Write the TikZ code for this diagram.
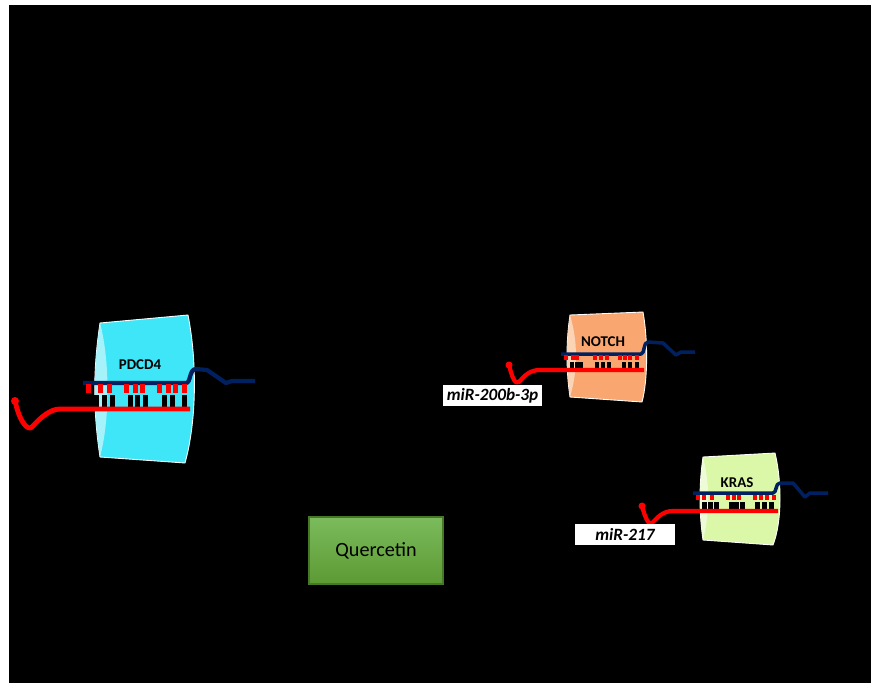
\documentclass[tikz,border=0pt]{standalone}
\usepackage{fontspec}
\setmainfont{Carlito}
\usepackage{tikz}

\definecolor{mrnablue}{RGB}{0,32,96}
\definecolor{mirred}{RGB}{255,0,0}
\definecolor{pdcdcyan}{RGB}{62,230,248}
\definecolor{pdcdface}{RGB}{165,242,250}
\definecolor{notchorange}{RGB}{249,166,112}
\definecolor{notchface}{RGB}{251,212,182}
\definecolor{krasgreen}{RGB}{218,248,168}
\definecolor{krasface}{RGB}{237,252,214}
\definecolor{quertop}{RGB}{124,187,92}
\definecolor{querbottom}{RGB}{92,154,52}
\definecolor{querborder}{RGB}{70,120,40}

\tikzset{
  mrna/.style={draw=mrnablue,line width=2pt,line join=round},
  mirna/.style={draw=mirred,line width=2.4pt,line join=round},
  barrel/.style={draw=white,line width=0.5pt},
  genelabel/.style={font=\fontsize{8.5}{10}\selectfont\bfseries,text=black},
  mirlabel/.style={fill=white,inner sep=0pt,minimum height=0.42cm,
    font=\fontsize{9.8}{11}\selectfont\bfseries\itshape}
}

\begin{document}
\begin{tikzpicture}[x=0.02cm,y=-0.02cm]

    \useasboundingbox (0,0) rectangle (871,683);
    \fill[white] (0,0) rectangle (871,683);
    \fill[black] (9,5) rectangle (871,683);

    % PDCD4
    \begin{scope}[shift={(100,323)}]

      \filldraw[barrel,fill=pdcdcyan] (0,0) -- (88,-8)
      .. controls (97,37) and (97,97) .. (85,140) -- (0,134)
      .. controls (-7,87) and (-7,47) .. (0,0) -- cycle;

      \fill[pdcdface] (0,0) .. controls (-7,47) and (-7,87) .. (0,134)
      .. controls (10,97) and (10,37) .. (0,0);

      \node[genelabel] (pdcd) at (40,42) {PDCD4};

      \draw[mrna,line width=2.4pt] (-17,60) -- (86,60)
      .. controls (91,60) and (89,46) .. (96,46) -- (107,47)
      -- (126,60) -- (132,58) -- (155,58);

      \foreach \x in {-14,-2,7,24,33,40,57,66,73,82}
        \fill[mirred] (\x,61) rectangle ++(5,9);

      \foreach \x in {-6,2,10,28,35,43,62,70,82}
        \fill[black] (\x,72) rectangle ++(4.5,14);

      \draw[mirna,line width=2.8pt] (-85,78)
      .. controls (-80,100) and (-72,108) .. (-68,104)
      .. controls (-60,95) and (-50,86) .. (-40,86) -- (90,86);

      \fill[mirred] (-85,78) circle (4);

    \end{scope}



    % NOTCH
    \begin{scope}[shift={(570,315)}]

      \filldraw[barrel,fill=notchorange] (0,0) -- (73,-3)
      .. controls (78,25) and (78,65) .. (72,87) -- (0,82)
      .. controls (-4,55) and (-4,27) .. (0,0) -- cycle;

      \fill[notchface] (0,0) .. controls (-4,27) and (-4,55) .. (0,82)
      .. controls (8,55) and (8,27) .. (0,0);

      \node[genelabel] (notch) at (33,27) {NOTCH};

      \draw[mrna] (-9,39) -- (71,39)
      .. controls (75,39) and (73,27) .. (78,27) -- (93,28)
      -- (106,40) -- (111,37) -- (125,37);

      \foreach \x in {-6,1,5,23,29,35,48,53,58,65}
        \fill[mirred] (\x,40) rectangle ++(4,5);

      \foreach \x in {0,5,9,25,31,37,52,58,65}
        \fill[black] (\x,47) rectangle ++(4,8);

      \draw[mirna] (-61,50)
      .. controls (-58,62) and (-55,70) .. (-51,67)
      .. controls (-45,60) and (-40,55) .. (-30,55) -- (74,55);

      \fill[mirred] (-61,50) circle (3.5);

    \end{scope}

    \node[mirlabel,minimum width=1.98cm] (mir200) at (492.5,395.5) {miR-200b-3p};



    % KRAS
    \begin{scope}[shift={(703,457)}]

      \filldraw[barrel,fill=krasgreen] (0,0) -- (72,-4)
      .. controls (79,25) and (79,65) .. (70,88) -- (0,83)
      .. controls (-4,55) and (-4,28) .. (0,0) -- cycle;

      \fill[krasface] (0,0) .. controls (-4,28) and (-4,55) .. (0,83)
      .. controls (7,55) and (7,28) .. (0,0);

      \node[genelabel] (kras) at (34,26) {KRAS};

      \draw[mrna] (-10,36) -- (70,36)
      .. controls (74,36) and (72,26) .. (77,26) -- (90,26)
      -- (102,40) -- (107,36) -- (125,36);

      \foreach \x in {-7,-1,7,23,29,34,50,56,62,69}
        \fill[mirred] (\x,38) rectangle ++(4,5);

      \foreach \x in {-1,5,11,26,31,37,52,59,66}
        \fill[black] (\x,45) rectangle ++(4.5,9);

      \draw[mirna] (-61,49)
      .. controls (-58,60) and (-55,68) .. (-51,66)
      .. controls (-45,60) and (-40,54) .. (-30,54) -- (75,54);

      \fill[mirred] (-61,49) circle (3.5);

    \end{scope}

    \node[mirlabel,minimum width=2cm] (mir217) at (625,534.5) {miR-217};



    % Quercetin
    \node[draw=querborder,line width=0.6pt,top color=quertop,bottom color=querbottom,
      minimum width=2.68cm,minimum height=1.34cm,
      font=\fontsize{11.5}{13}\selectfont] (querc) at (376,550.5) {Quercetin};

  \end{tikzpicture}
\end{document}
